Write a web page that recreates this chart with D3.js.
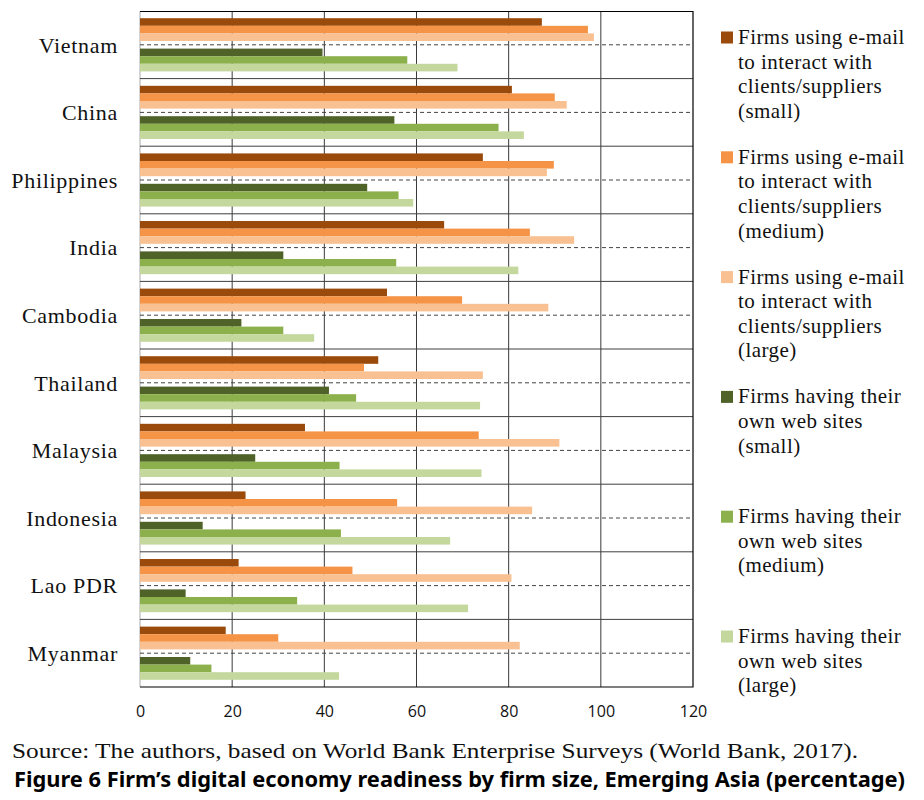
<!DOCTYPE html>
<html>
<head>
<meta charset="utf-8">
<script src="https://cdn.jsdelivr.net/npm/d3@7"></script>
<style>
  body { margin: 0; background: #fff; }
  svg { display: block; }
</style>
</head>
<body>
<svg id="chart" width="924" height="800"></svg>
<script>
const countries = ["Vietnam", "China", "Philippines", "India", "Cambodia", "Thailand", "Malaysia", "Indonesia", "Lao PDR", "Myanmar"];

const emailSmall  = [87.2, 80.7, 74.4, 66.0, 53.6, 51.7, 35.8, 22.9, 21.4, 18.6];
const emailMedium = [97.2, 90.0, 89.8, 84.6, 69.9, 48.6, 73.5, 55.8, 46.1, 30.0];
const emailLarge  = [98.5, 92.6, 88.3, 94.2, 88.6, 74.4, 91.0, 85.1, 80.6, 82.4];
const webSmall    = [39.6, 55.2, 49.3, 31.1, 22.0, 41.0, 25.0, 13.6,  9.9, 10.9];
const webMedium   = [58.0, 77.8, 56.1, 55.6, 31.1, 46.9, 43.3, 43.6, 34.1, 15.5];
const webLarge    = [68.9, 83.3, 59.3, 82.1, 37.8, 73.8, 74.1, 67.3, 71.2, 43.2];

const xTicks = [0, 20, 40, 60, 80, 100, 120];

const seriesLabels = [
  ["Firms using e-mail", "to interact with", "clients/suppliers", "(small)"],
  ["Firms using e-mail", "to interact with", "clients/suppliers", "(medium)"],
  ["Firms using e-mail", "to interact with", "clients/suppliers", "(large)"],
  ["Firms having their", "own web sites", "(small)"],
  ["Firms having their", "own web sites", "(medium)"],
  ["Firms having their", "own web sites", "(large)"]
];
const seriesColors = ["#9a4a0b", "#f59446", "#f9c091", "#4f6228", "#8cb04b", "#c4d89e"];
const seriesValues = [emailSmall, emailMedium, emailLarge, webSmall, webMedium, webLarge];

const svg = d3.select("#chart");
const margin = { top: 11, right: 231, bottom: 113, left: 140 };
const width = 924 - margin.left - margin.right;
const height = 800 - margin.top - margin.bottom;

const g = svg.append("g").attr("transform", `translate(${margin.left},${margin.top})`);

const x = d3.scaleLinear().domain([0, 120]).range([0, width]);
const y = d3.scaleBand().domain(countries).range([0, height]);

// 7 slots per country: 3 e-mail bars, an empty slot, 3 web-site bars
const slots = ["s0", "s1", "s2", "gap", "s3", "s4", "s5"];
const ySub = d3.scaleBand().domain(slots).range([0, y.bandwidth()]).paddingOuter(0.95);

// left edge in light grey
g.append("line")
  .attr("x1", 0).attr("x2", 0).attr("y1", 0).attr("y2", height)
  .attr("stroke", "#d4d4d4").attr("stroke-width", 2);

// vertical grid
g.selectAll(".vgrid")
  .data(xTicks.slice(1, -1))
  .enter().append("line")
  .attr("x1", d => x(d)).attr("x2", d => x(d))
  .attr("y1", 0).attr("y2", height)
  .attr("stroke", "#3a3a3a").attr("stroke-width", 1);

// solid lines between countries
g.selectAll(".hgrid")
  .data(countries.slice(1))
  .enter().append("line")
  .attr("x1", 0).attr("x2", width)
  .attr("y1", d => y(d)).attr("y2", d => y(d))
  .attr("stroke", "#3f3f3f").attr("stroke-width", 1);

// dashed lines in the middle of each country
g.selectAll(".mid")
  .data(countries)
  .enter().append("line")
  .attr("x1", 0).attr("x2", width)
  .attr("y1", d => y(d) + y.bandwidth() / 2).attr("y2", d => y(d) + y.bandwidth() / 2)
  .attr("stroke", "#444").attr("stroke-width", 1)
  .attr("stroke-dasharray", "4,3");

// Bars
seriesValues.forEach((vals, s) => {
  g.selectAll(".bar" + s)
    .data(countries)
    .enter().append("rect")
    .attr("x", x(0))
    .attr("y", (d) => y(d) + ySub("s" + s))
    .attr("width", (d, i) => x(vals[i]) - x(0))
    .attr("height", ySub.bandwidth())
    .attr("fill", seriesColors[s]);
});

// frame: top, right, bottom
g.append("path")
  .attr("d", `M0,0.5H${width}V${height}H0`)
  .attr("fill", "none").attr("stroke", "#000").attr("stroke-width", 1.2);

// country labels
g.selectAll(".country")
  .data(countries)
  .enter().append("text")
  .attr("x", -22)
  .attr("y", d => y(d) + y.bandwidth() / 2)
  .attr("dy", "0.35em")
  .attr("text-anchor", "end")
  .style("font-family", "'Liberation Serif', serif")
  .style("font-size", "22px")
  .style("letter-spacing", "0.7px")
  .style("fill", "#111")
  .text(d => d);

// x axis labels
g.append("g")
  .attr("transform", `translate(0,${height})`)
  .call(d3.axisBottom(x).tickValues(xTicks).tickSize(0).tickPadding(19))
  .call(a => a.select(".domain").remove())
  .selectAll("text")
  .style("font-family", "'Open Sans', sans-serif")
  .style("font-size", "16px")
  .style("fill", "#111");

// Legend
const legend = svg.append("g").attr("transform", "translate(721, 44)");
seriesLabels.forEach((lines, i) => {
  const item = legend.append("g").attr("transform", `translate(0, ${i * 119.8})`);
  item.append("rect")
    .attr("x", 0).attr("y", -12.5)
    .attr("width", 12).attr("height", 12)
    .attr("fill", seriesColors[i]);
  item.append("text")
    .style("font-family", "'Liberation Serif', serif")
    .style("font-size", "21px")
    .style("letter-spacing", "0.45px")
    .style("fill", "#111")
    .selectAll("tspan")
    .data(lines)
    .enter().append("tspan")
    .attr("x", 17)
    .attr("y", (d, j) => j * 24.6)
    .text(d => d);
});

// source + figure title
svg.append("text")
  .attr("x", 12).attr("y", 758)
  .attr("textLength", 846).attr("lengthAdjust", "spacingAndGlyphs")
  .style("font-family", "'Liberation Serif', serif")
  .style("font-size", "22px")
  .style("fill", "#111")
  .text("Source: The authors, based on World Bank Enterprise Surveys (World Bank, 2017).");

svg.append("text")
  .attr("x", 14).attr("y", 787)
  .attr("textLength", 891).attr("lengthAdjust", "spacingAndGlyphs")
  .style("font-family", "'Noto Sans', sans-serif")
  .style("font-weight", "bold")
  .style("font-size", "22px")
  .style("fill", "#000")
  .text("Figure 6 Firm\u2019s digital economy readiness by firm size, Emerging Asia (percentage)");
</script>
</body>
</html>
